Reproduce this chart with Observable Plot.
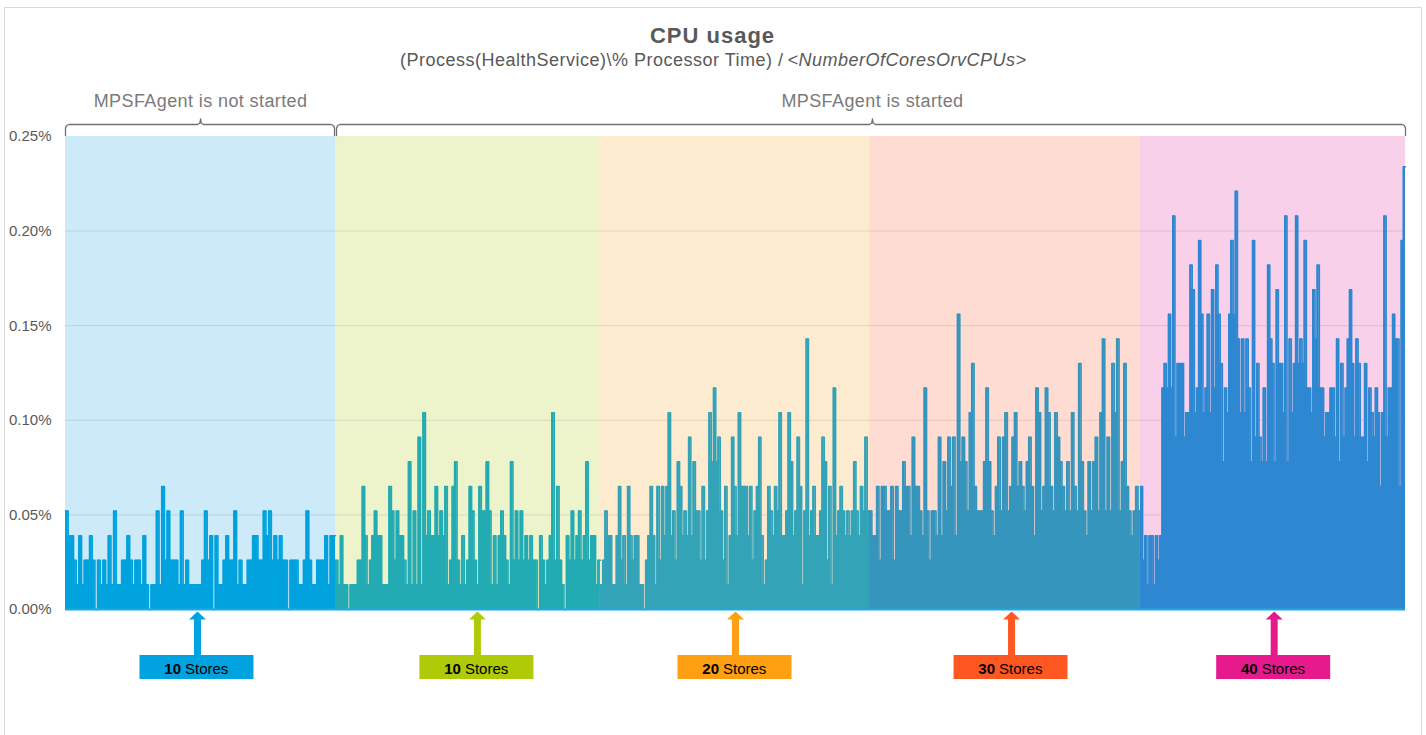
<!DOCTYPE html>
<html><head><meta charset="utf-8">
<script src="https://cdn.jsdelivr.net/npm/d3@7"></script>
<script src="https://cdn.jsdelivr.net/npm/@observablehq/plot@0.6"></script>
<style>
html,body{margin:0;padding:0;background:#fff;overflow:hidden;width:1426px;height:735px;}
#chart{position:absolute;left:0;top:0;}
#frame{position:absolute;left:4px;top:7px;width:1416px;height:760px;border:1px solid #d9d9d9;pointer-events:none;}
</style></head><body>
<div id="chart"></div><div id="frame"></div>
<script>
// ---------- DATA ----------
// Each value is a level; one level = 0.013 % CPU (values are quantized in the source)
const LEVEL = 0.013;
const notStarted10 = [4,3,3,2,1,3,1,2,2,3,2,0,2,1,2,1,3,1,4,1,1,2,2,3,2,1,2,2,1,3,1,0,1,1,4,1,5,2,4,2,2,2,1,4,1,2,1,1,1,1,1,2,4,2,3,0,3,1,1,2,3,2,2,4,1,2,1,1,2,2,3,3,2,2,4,3,4,2,3,2,3,2,2,0,2,2,2,1,1,2,4,2,1,1,2,2,2,3,1,3,3];
const started10 = [2,1,3,1,1,0,1,1,1,2,2,5,3,1,2,3,4,3,3,1,1,1,5,4,2,4,3,3,2,1,6,1,4,1,7,1,8,3,4,3,3,5,3,4,3,5,1,2,5,6,2,1,3,1,2,5,4,2,1,5,4,4,6,4,1,3,1,3,4,3,2,1,6,2,4,2,4,2,3,2,3,2,2,0,3,2,1,2,3,8,2,5,2,1,0,3,2,4,2,3,4,2,3,6,2,3,3,1,2];
const started20 = [1,2,4,3,3,1,1,3,5,2,3,1,5,3,2,3,3,1,1,0,2,3,5,3,1,5,2,5,3,5,8,3,4,2,6,5,3,4,3,7,3,6,4,4,2,5,2,4,8,6,9,6,7,4,2,5,1,3,7,5,3,8,5,5,5,3,5,2,4,5,7,3,1,2,5,4,3,5,4,8,3,3,4,8,6,3,4,7,5,1,4,11,3,4,5,3,3,4,7,6,2,5,1,9,3,4,5,4,3,4,3,4,6,4,3,5,4,7,4];
const started30 = [4,3,3,5,2,5,5,4,4,5,2,5,4,4,6,5,5,3,7,5,5,4,3,9,4,2,4,4,3,7,3,6,4,7,5,7,3,12,6,7,6,4,8,10,5,4,4,4,6,9,6,4,3,5,7,4,7,8,4,5,7,8,5,6,5,4,6,7,5,3,9,8,4,5,9,8,5,4,8,7,6,5,4,6,4,8,5,4,10,6,4,3,6,4,6,7,4,8,11,4,7,4,10,8,11,4,6,10,5,4,3,4,5,4];
const started40 = [5,2,3,1,3,3,1,3,2,3,9,10,9,12,9,16,7,10,10,10,7,8,8,14,13,8,9,15,12,8,9,12,8,13,9,14,12,10,6,9,8,12,15,12,17,11,8,11,8,11,9,6,15,7,10,7,6,9,6,14,11,10,6,13,10,10,8,16,6,11,8,10,16,10,11,10,15,9,9,8,13,11,14,9,9,7,8,8,9,9,7,11,6,10,7,9,11,13,10,7,11,10,7,7,10,6,9,8,7,9,8,5,8,16,7,9,9,12,11,11,5,15,18];
const storeCounts = ["10","10","20","30","40"];
const phaseLabels = ["MPSFAgent is not started","MPSFAgent is started"];
const yTicks = [0,0.05,0.10,0.15,0.20,0.25];
const titleText = "CPU usage";
const subtitleMain = "(Process(HealthService)\\% Processor Time) /";
const subtitleItalic = "<NumberOfCoresOrvCPUs>";

// ---------- STYLE / LAYOUT ----------
const bounds = [0, 1.0075, 1.996, 3.0, 4.011, 5];   // period edges on the time axis
const phaseSpans = [[0,1],[1,5]];                   // indexes into bounds
const bandColors = ["#cdeaf8","#edf4cc","#fdebcf","#fedcd2","#f8d0ea"];
const areaColors = ["#00a2de","#22abb2","#33a3b8","#3595bd","#2e88d1"];
const storeColors = ["#00a3e0","#afcb08","#ff9f12","#ff5722","#e6198d"];
const arrowPos = [0.4925,1.537,2.5,3.53,4.51];
const phaseTick = [0.504,3.011];
const W = 1426, H = 735, mL = 65, mR = 21, mT = 136, mB = 126;
const pxX = 5 / (W - mL - mR);          // data units per px (x)
const pxY = 0.25 / (H - mT - mB);       // data units per px (y)
const yAt = py => (H - mB - py) * pxY;  // px from top -> y value

const series = [notStarted10, started10, started20, started30, started40];
const regionPts = series.map((vals, r) => {
  const n = vals.length, a = bounds[r], b = bounds[r + 1];
  const pts = vals.map((v, i) => ({x: a + (b - a) * i / n, y: v * LEVEL}));
  pts.push({x: b, y: vals[n - 1] * LEVEL});
  return pts;
});

const marks = [];
series.forEach((_, r) => {
  marks.push(Plot.rect([r], {x1: d => bounds[d], x2: d => bounds[d + 1], y1: 0, y2: 0.25, fill: bandColors[r]}));
});
marks.push(Plot.ruleY([0.05,0.10,0.15,0.20], {stroke: "#000", strokeOpacity: 0.1, strokeWidth: 1}));
regionPts.forEach((pts, r) => {
  marks.push(Plot.areaY(pts, {x: "x", y: "y", fill: areaColors[r], curve: "step-after"}));
});
regionPts.forEach((pts, r) => {
  marks.push(Plot.lineY(pts, {x: "x", y: "y", stroke: areaColors[r], strokeWidth: 1.6, curve: "step-after"}));
});
marks.push(Plot.ruleY([0], {stroke: "#1eaae3", strokeWidth: 2}));

// phase brackets
phaseSpans.forEach(([ia, ib], k) => {
  const a0 = bounds[ia] + (k ? 1 : 0) * pxX, b0 = bounds[ib] - (k ? 0 : 1) * pxX, t = phaseTick[k];
  const pts = [
    [a0, 135], [a0, 127.5], [a0 + 1.2 * pxX, 125], [a0 + 3.5 * pxX, 124],
    [t - 3 * pxX, 124], [t - 0.8 * pxX, 122.8], [t, 118.5], [t + 0.8 * pxX, 122.8], [t + 3 * pxX, 124],
    [b0 - 3.5 * pxX, 124], [b0 - 1.2 * pxX, 125], [b0, 127.5], [b0, 135]
  ].map(([x, py]) => ({x, y: yAt(py)}));
  marks.push(Plot.line(pts, {x: "x", y: "y", stroke: "#6f6f6f", strokeWidth: 1.3}));
});
marks.push(Plot.text(phaseLabels, {x: (d, i) => phaseTick[i], y: yAt(100.7), text: d => d,
  fontSize: 18, fill: "#7a7a7a", lineAnchor: "middle"}));

// arrows + boxes
storeCounts.forEach((c, i) => {
  const cx = arrowPos[i];
  const shape = [[-3.5,656],[-3.5,619],[-8.5,619],[0,611],[8.5,619],[3.5,619],[3.5,656]]
    .map(([dx, py]) => ({x: cx + dx * pxX, y: yAt(py)}));
  marks.push(Plot.line(shape, {x: "x", y: "y", fill: storeColors[i], stroke: "none"}));
});
const stores = storeCounts.map((c, i) => ({c, x: arrowPos[i] - 0.5 * pxX, color: storeColors[i]}));
stores.forEach(s => {
  marks.push(Plot.rect([s], {x1: d => d.x - 57 * pxX, x2: d => d.x + 57 * pxX, y1: yAt(655), y2: yAt(679), fill: s.color}));
});
marks.push(Plot.text(stores, {x: "x", y: yAt(669), text: "c", textAnchor: "end", dx: -16,
  fontWeight: "bold", fontSize: 15, fill: "#000", lineAnchor: "middle"}));
marks.push(Plot.text(stores, {x: "x", y: yAt(669), text: () => "Stores", textAnchor: "start", dx: -12,
  fontSize: 15, fill: "#000", lineAnchor: "middle"}));

// titles
marks.push(Plot.text([titleText], {frameAnchor: "top", text: d => d, dx: -23, dy: -100.5, lineAnchor: "middle",
  fontSize: 22, fontWeight: "bold", fill: "#595959"}));
marks.push(Plot.text([subtitleMain], {frameAnchor: "top", text: d => d, textAnchor: "end", dx: 48, dy: -76.5,
  lineAnchor: "middle", fontSize: 18, fill: "#595959"}));
marks.push(Plot.text([subtitleItalic], {frameAnchor: "top", text: d => d, textAnchor: "start", dx: 52, dy: -76.5,
  lineAnchor: "middle", fontSize: 18, fontStyle: "italic", fill: "#595959"}));

const chart = Plot.plot({
  width: W, height: H,
  marginLeft: mL, marginRight: mR, marginTop: mT, marginBottom: mB,
  style: {fontFamily: "'Liberation Sans', Arial, sans-serif", fontSize: "15px", color: "#595959", background: "transparent"},
  x: {domain: [0, 5], axis: null},
  y: {domain: [0, 0.25], ticks: yTicks, tickFormat: d => d.toFixed(2) + "%", tickSize: 0, tickPadding: 14, label: null},
  marks
});
document.getElementById("chart").appendChild(chart);

// letter spacing tweaks to match the original's wide text
const svg = d3.select(chart);
svg.selectAll("text").each(function() {
  const t = this.textContent;
  if (phaseLabels.includes(t)) this.setAttribute("letter-spacing", "0.4");
  else if (t === titleText) this.setAttribute("letter-spacing", "1");
  else if (t === subtitleMain || t === subtitleItalic) this.setAttribute("letter-spacing", "0.5");
});
</script></body></html>
